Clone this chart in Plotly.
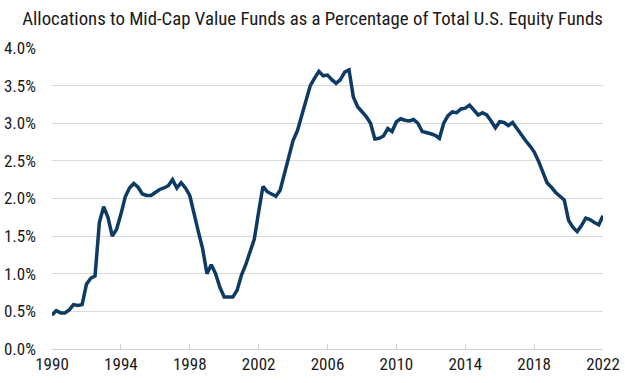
import plotly.graph_objects as go

start_year = 1990
quarters_per_year = 4

allocation_pct = [
    0.45, 0.51, 0.48, 0.48, 0.52, 0.59, 0.58, 0.59,
    0.86, 0.94, 0.97, 1.68, 1.89, 1.75, 1.50, 1.59,
    1.79, 2.02, 2.14, 2.20, 2.15, 2.06, 2.04, 2.04,
    2.08, 2.12, 2.14, 2.17, 2.25, 2.14, 2.21, 2.14,
    2.04, 1.82, 1.56, 1.33, 1.00, 1.12, 1.00, 0.82,
    0.69, 0.69, 0.69, 0.78, 0.98, 1.12, 1.30, 1.46,
    1.82, 2.16, 2.09, 2.06, 2.03, 2.11, 2.34, 2.53,
    2.77, 2.90, 3.10, 3.32, 3.50, 3.60, 3.69, 3.63,
    3.64, 3.58, 3.53, 3.58, 3.68, 3.71, 3.35, 3.22,
    3.16, 3.09, 3.00, 2.79, 2.80, 2.83, 2.93, 2.89,
    3.02, 3.06, 3.04, 3.03, 3.05, 3.00, 2.89, 2.88,
    2.86, 2.84, 2.80, 3.00, 3.10, 3.15, 3.14, 3.19,
    3.20, 3.24, 3.17, 3.11, 3.14, 3.11, 3.03, 2.94,
    3.02, 3.01, 2.97, 3.01, 2.93, 2.84, 2.77, 2.70,
    2.62, 2.50, 2.35, 2.21, 2.15, 2.08, 2.03, 1.98,
    1.71, 1.62, 1.56, 1.64, 1.74, 1.72, 1.68, 1.65,
    1.77,
]

x_ticks = [1990, 1994, 1998, 2002, 2006, 2010, 2014, 2018, 2022]
y_ticks = [0.0, 0.5, 1.0, 1.5, 2.0, 2.5, 3.0, 3.5, 4.0]
y_tick_labels = ["0.0%", "0.5%", "1.0%", "1.5%", "2.0%", "2.5%", "3.0%", "3.5%", "4.0%"]

title_text = "Allocations to Mid-Cap Value Funds as a Percentage of Total U.S. Equity Funds"

x_vals = [start_year + i / quarters_per_year for i in range(len(allocation_pct))]

FONT = "Roboto Condensed, Liberation Sans Narrow, Roboto, sans-serif"

fig = go.Figure()
fig.add_trace(go.Scatter(
    x=x_vals, y=allocation_pct, mode="lines",
    line=dict(color="#0d3b63", width=3.5),
    hoverinfo="skip", showlegend=False,
))

fig.update_layout(
    width=625, height=383,
    margin=dict(l=52, r=22, t=48, b=34),
    paper_bgcolor="white", plot_bgcolor="white",
    font=dict(family=FONT, size=17, color="#1a1a1a"),
    title=dict(text=title_text, x=0.5, xanchor="center", y=0.953, yanchor="middle",
               font=dict(family=FONT, size=18.8, color="#1a1a1a")),
    xaxis=dict(
        range=[1990, 2022], tickvals=x_ticks, ticktext=[str(t) for t in x_ticks],
        showgrid=False, zeroline=False, showline=True, linecolor="#d0d0d0", linewidth=1,
        ticks="inside", ticklen=5, tickcolor="#d0d0d0", tickwidth=1,
        tickfont=dict(family=FONT, size=17, color="#1a1a1a"), automargin=False,
    ),
    yaxis=dict(
        range=[0, 4], tickvals=y_ticks, ticktext=y_tick_labels,
        showgrid=True, gridcolor="#d9d9d9", gridwidth=1, zeroline=False, showline=False,
        ticks="", ticklabelstandoff=15, automargin=False,
        tickfont=dict(family=FONT, size=17, color="#1a1a1a"),
    ),
)

fig.write_html("out.html", config={"displayModeBar": False},
               post_script="document.body.style.margin='0';")
